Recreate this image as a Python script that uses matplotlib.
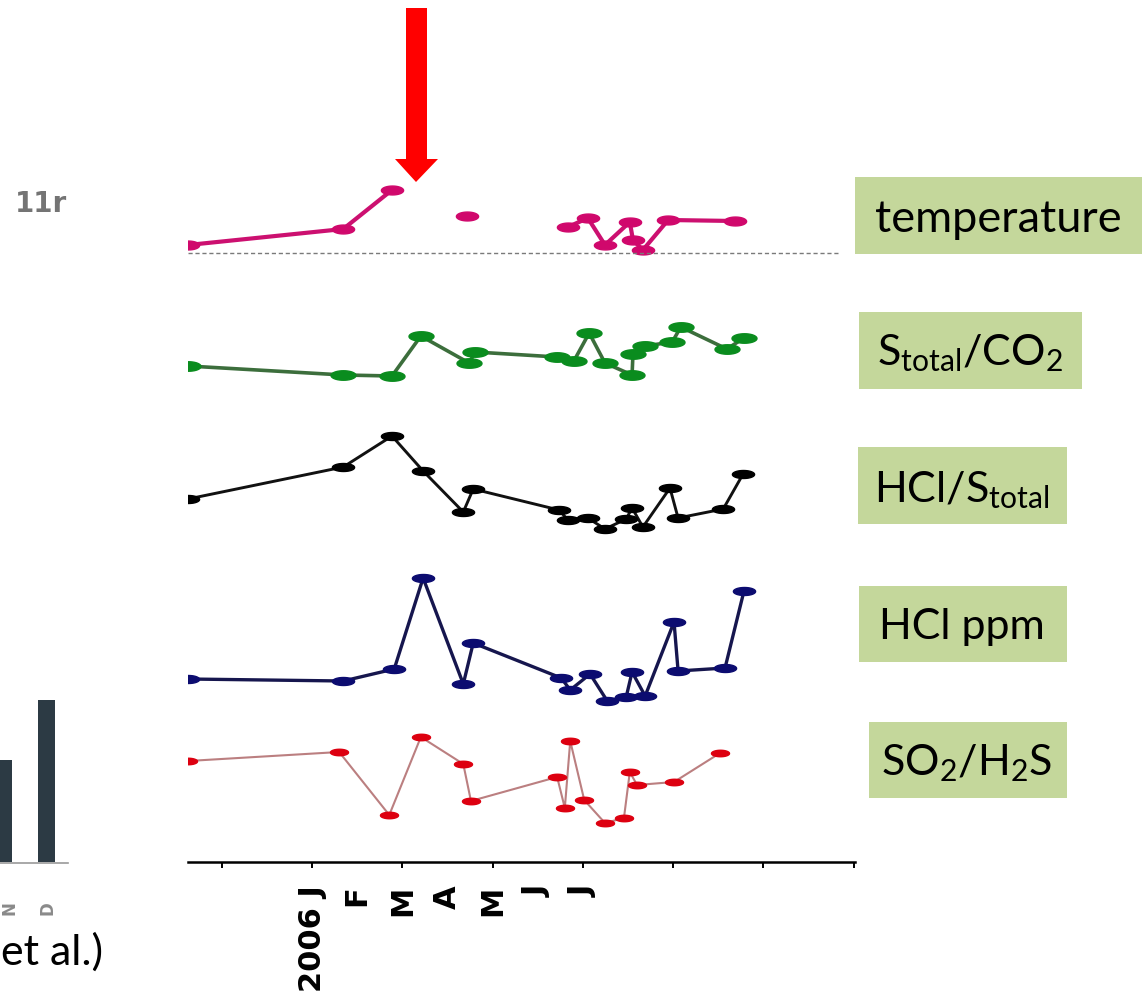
import numpy as np
import matplotlib.pyplot as plt
from matplotlib.path import Path
from matplotlib.patches import Rectangle, Polygon

W_PX, H_PX = 1142, 1001
plt.rcParams['font.family'] = ['Lato', 'DejaVu Sans']
plt.rcParams['mathtext.fontset'] = 'custom'
plt.rcParams['mathtext.rm'] = 'Lato'

nan = np.nan

# ── data: sampling dates in months from 1 Jan 2006, values in relative units ──
temp_t = [-2.75, 0.69, 1.77, 2.41, 3.43, 5.43, 5.67, 6.11, 6.49, 7.04, 7.11, 7.33, 7.89, 9.37]
temp_v = [0.8, 2.4, 6.3, nan, 3.7, nan, 2.6, 3.5, 0.8, 3.1, 1.3, 0.3, 3.3, 3.2]

sco2_t = [-2.75, 0.69, 1.77, 2.41, 3.48, 3.61, 5.43, 5.80, 6.14, 6.49, 7.09, 7.11, 7.38, 7.98, 8.17, 9.19, 9.57]
sco2_v = [1.9, 1.0, 0.9, 4.9, 2.2, 3.3, 2.8, 2.4, 5.2, 2.2, 1.0, 3.1, 3.9, 4.3, 5.8, 3.6, 4.7]

hcls_t = [-2.75, 0.69, 1.77, 2.46, 3.35, 3.57, 5.47, 5.67, 6.11, 6.49, 6.96, 7.09, 7.33, 7.93, 8.11, 9.11, 9.55]
hcls_v = [4.1, 7.3, 10.4, 6.9, 2.8, 5.1, 3.0, 2.0, 2.2, 1.1, 2.1, 3.2, 1.3, 5.2, 2.2, 3.1, 6.6]

hcl_t = [-2.75, 0.69, 1.82, 2.46, 3.35, 3.57, 5.52, 5.72, 6.16, 6.54, 6.96, 7.09, 7.38, 8.02, 8.11, 9.15, 9.57]
hcl_v = [3.1, 2.9, 4.1, 13.2, 2.6, 6.7, 3.2, 2.0, 3.6, 0.9, 1.3, 3.8, 1.4, 8.8, 3.9, 4.2, 11.9]

so2_t = [-2.75, 0.60, 1.71, 2.41, 3.35, 3.52, 5.43, 5.60, 5.72, 6.03, 6.49, 6.91, 7.04, 7.20, 8.02, 9.04]
so2_v = [10.1, 11.0, 4.7, 12.5, 9.8, 6.1, 8.5, 5.4, 12.1, 6.2, 3.9, 4.4, 9.0, 7.7, 8.0, 10.9]

month_pos = [0, 1, 2, 3, 4, 5, 6]
month_labels = ['2006 J', 'F', 'M', 'A', 'M', 'J', 'J']

panel_labels = ['temperature',
                r'$\mathregular{S_{total}/CO_2}$',
                r'$\mathregular{HCl/S_{total}}$',
                'HCl ppm',
                r'$\mathregular{SO_2/H_2S}$']

X_LIM = (-2.75, 12.03)


def ellipse(aspect):
    th = np.linspace(0, 2 * np.pi, 41)
    return Path(np.column_stack([np.cos(th), aspect * np.sin(th)]), closed=True)


def px_axes(fig, top, bottom, pad_top, pad_bot):
    """axes from pixel band; 10 px per data unit, y=0 at `bottom`"""
    l = 188 / W_PX
    w = (855 - 188) / W_PX
    b = 1 - (bottom + pad_bot) / H_PX
    h = (bottom - top + pad_top + pad_bot) / H_PX
    ax = fig.add_axes([l, b, w, h])
    ax.set_xlim(*X_LIM)
    ax.set_ylim(-pad_bot / 10, (bottom - top + pad_top) / 10)
    ax.patch.set_visible(False)
    for s in ax.spines.values():
        s.set_visible(False)
    ax.set_xticks([]); ax.set_yticks([])
    return ax


fig = plt.figure(figsize=(W_PX / 100, H_PX / 100), dpi=100)
fig.patch.set_facecolor('white')

# (top px, zero px, data, line colour, marker colour, lw, marker width pt, aspect)
panels = [
    (175, 253, temp_t, temp_v, '#cc1070', '#d0086c', 3.0, 16, 0.40),
    (315, 385, sco2_t, sco2_v, '#3c6e3c', '#0a8c1e', 2.6, 18, 0.38),
    (425, 540, hcls_t, hcls_v, '#111111', '#000000', 2.1, 16, 0.36),
    (565, 710, hcl_t, hcl_v, '#16164e', '#0c0c70', 2.4, 16, 0.36),
]
for top, zero, t, v, lc, mc, lw, ms, asp in panels:
    ax = px_axes(fig, top, zero, 15, 15)
    ax.plot(t, v, color=lc, lw=lw, marker=ellipse(asp), ms=ms,
            mfc=mc, mec=mc, solid_capstyle='round')
    if top == 175:
        ax.axhline(0, xmax=0.978, color='#7a7a7a', lw=1.0, ls=(0, (3, 2)))

# bottom panel carries the time axis
ax5 = px_axes(fig, 725, 862, 15, 0)
ax5.plot(so2_t, so2_v, color='#bb7f80', lw=1.5, marker=ellipse(0.36), ms=13,
         mfc='#dd0010', mec='#dd0010')
ax5.spines['bottom'].set_visible(True)
ax5.spines['bottom'].set_linewidth(1.8)
ax5.xaxis.remove_overlapping_locs = False
ax5.set_xticks(np.arange(-2, 13, 2))
ax5.set_xticklabels([])
ax5.tick_params(axis='x', which='major', direction='out', length=4, width=1.4)
ax5.set_xticks(month_pos, minor=True)
ax5.set_xticklabels(month_labels, minor=True, rotation=90,
                    fontsize=22, fontweight='bold', family='DejaVu Sans')
ax5.tick_params(axis='x', which='minor', length=0, pad=17)

# ── overlay in pixel coordinates: arrow, label boxes, neighbouring fragment ──
ov = fig.add_axes([0, 0, 1, 1], zorder=5)
ov.set_xlim(0, W_PX); ov.set_ylim(H_PX, 0)
ov.axis('off'); ov.patch.set_visible(False)

ov.add_patch(Polygon([(406, 8), (427, 8), (427, 159), (438, 159), (416, 182),
                      (395, 159), (406, 159)], closed=True, fc='#ff0000', ec='none'))

boxes = [(855, 177, 290, 77, 875, 232, 'left'),
         (859, 312, 223, 77, 970, 365, 'center'),
         (858, 447, 209, 77, 962, 502, 'center'),
         (859, 586, 208, 76, 962, 639, 'center'),
         (869, 722, 198, 76, 967, 775, 'center')]
for (bx, by, bw, bh, tx, ty, ha), lab in zip(boxes, panel_labels):
    ov.add_patch(Rectangle((bx, by), bw, bh, fc='#c4d79b', ec='none'))
    fs = 32.5 if ha == 'left' else 31
    ov.text(tx, ty, lab, ha=ha, va='baseline', fontsize=fs, color='black')

# fragment of the neighbouring panel on the left
ov.text(15, 212, '11r', fontsize=20, fontweight='bold', color='#5c5c5c',
        family='DejaVu Sans', va='baseline', alpha=0.85)
ov.add_patch(Rectangle((0, 760), 12, 102, fc='#2c3a44', ec='none'))
ov.add_patch(Rectangle((38, 700), 17, 162, fc='#2c3a44', ec='none'))
ov.plot([0, 68], [863, 863], color='#9a9a9a', lw=1.2)
ov.text(10, 908, 'N', rotation=90, ha='center', va='center', fontsize=12,
        fontweight='bold', color='#8a8a8a', family='DejaVu Sans')
ov.text(47, 908, 'D', rotation=90, ha='center', va='center', fontsize=12,
        fontweight='bold', color='#8a8a8a', family='DejaVu Sans')
ov.text(1, 965, 'et al.)', fontsize=31, color='black', va='baseline')

fig.savefig('out.png', dpi=100, facecolor='white')
plt.close(fig)
